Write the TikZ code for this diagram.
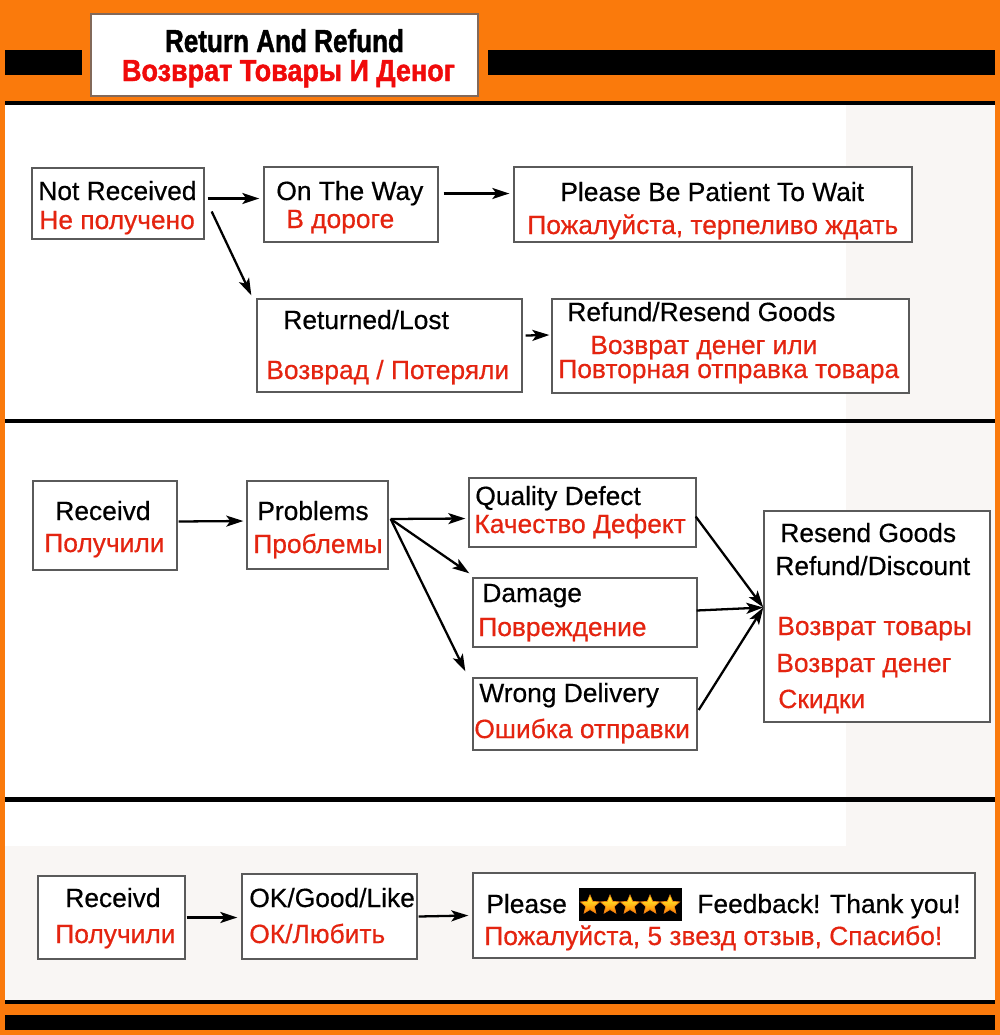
\documentclass[tikz,border=0pt]{standalone}
\usepackage{fontspec}
\setmainfont{Liberation Sans}
\newfontfamily\grueso[FakeBold=0.5]{Liberation Sans}
\newfontfamily\titular[FakeBold=1.5]{Liberation Sans}
\usepackage{graphicx}
\usetikzlibrary{arrows.meta,shapes.geometric}

\definecolor{naranja}{RGB}{250,122,12}
\definecolor{rojo}{RGB}{228,36,16}
\definecolor{rojotitulo}{RGB}{240,10,10}
\definecolor{fondo}{RGB}{249,246,244}
\definecolor{borde}{RGB}{90,90,90}
\definecolor{bordetitulo}{RGB}{130,105,90}

\tikzset{
	caja/.style={draw=borde, line width=0.8pt, fill=white, inner sep=0pt},
	ingles/.style={anchor=base west, inner sep=0pt, font=\grueso\fontsize{15}{18}\selectfont},
	ruso/.style={ingles, text=rojo},
	flecha/.style={-{Stealth[length=0.34cm,width=0.22cm,inset=0.08cm]}, line width=1.3pt},
	estrella/.style={star, star points=5, star point ratio=2.2, minimum size=0.4cm, inner sep=0pt, top color=yellow!80!white, bottom color=orange, draw=orange!70!brown, line width=0.4pt}
}

\begin{document}
\begin{tikzpicture}[x=0.02cm,y=-0.02cm]
		
		% Fondo y bandas
		\fill[naranja] (0,0) rectangle (1000,1035);
		\useasboundingbox (0,0) rectangle (1000,1035);
		\fill[black] (5,50) rectangle (82,75);
		\fill[black] (488,50) rectangle (995,75);
		\fill[white] (5,105) rectangle (995,1000);
		\fill[fondo] (846,105) rectangle (995,846);
		\fill[fondo] (5,846) rectangle (995,1000);
		\fill[black] (5,101) rectangle (995,105);
		\fill[black] (5,419) rectangle (995,423);
		\fill[black] (5,797) rectangle (995,802);
		\fill[black] (5,1000) rectangle (995,1004);
		\fill[black] (5,1015) rectangle (995,1030);
		
		% Titulo
		\node[caja, draw=bordetitulo, minimum width=7.74cm, minimum height=1.64cm] (titulo) at (284.5,55) {};
		\node[anchor=base, inner sep=0pt] (titulo-en) at (284.5,52) {\resizebox{4.78cm}{0.46cm}{\titular\bfseries Return And Refund}};
		\node[anchor=base, inner sep=0pt, text=rojotitulo] (titulo-ru) at (288.5,81) {\resizebox{6.66cm}{0.42cm}{\titular\bfseries Возврат Товары И Деног}};
		
		% Parte 1: no recibido
		\node[caja, minimum width=3.44cm, minimum height=1.42cm] (nr) at (118,203.5) {};
		\node[caja, minimum width=3.48cm, minimum height=1.50cm] (camino) at (351,204.5) {};
		\node[caja, minimum width=7.96cm, minimum height=1.50cm] (espera) at (713,204.5) {};
		\node[caja, minimum width=5.30cm, minimum height=1.86cm] (perdido) at (389.5,345.5) {};
		\node[caja, minimum width=7.14cm, minimum height=1.88cm] (reenvio) at (730.5,346) {};
		\node[ingles] (nr-en) at (38,200) {Not Received};
		\node[ruso] (nr-ru) at (39,229) {Не получено};
		\node[ingles] (camino-en) at (276,200) {On The Way};
		\node[ruso] (camino-ru) at (286,228) {В дороге};
		\node[ingles] (espera-en) at (560,201) {Please Be Patient To Wait};
		\node[ruso] (espera-ru) at (527,234) {Пожалуйста, терпеливо ждать};
		\node[ingles] (perdido-en) at (283,329) {Returned/Lost};
		\node[ruso] (perdido-ru) at (266,379) {Возврад / Потеряли};
		\node[ingles] (reenvio-en) at (567,321) {Refund/Resend Goods};
		\node[ruso] (reenvio-ru1) at (590,354) {Возврат денег или};
		\node[ruso] (reenvio-ru2) at (558,378) {Повторная отправка товара};
		\draw[flecha] ([shift={(3,-5)}]nr.east) -- ([shift={(-4,-6)}]camino.west);
		\draw[flecha] ([shift={(5,-11)}]camino.east) -- ([shift={(-4,-11)}]espera.west);
		\draw[flecha] ([shift={(7,8)}]nr.east) -- ([shift={(-5,-3)}]perdido.north west);
		\draw[flecha] ([shift={(3,-10)}]perdido.east) -- ([shift={(-2,-11)}]reenvio.west);
		
		% Parte 2: recibido con problemas
		\node[caja, minimum width=2.88cm, minimum height=1.78cm] (recibido) at (105,525.5) {};
		\node[caja, minimum width=2.82cm, minimum height=1.76cm] (problemas) at (317.5,525) {};
		\node[caja, minimum width=4.54cm, minimum height=1.38cm] (calidad) at (582.5,512.5) {};
		\node[caja, minimum width=4.48cm, minimum height=1.38cm] (dano) at (585,612.5) {};
		\node[caja, minimum width=4.48cm, minimum height=1.44cm] (envio) at (585,714) {};
		\node[caja, minimum width=4.52cm, minimum height=4.22cm] (solucion) at (877,616.5) {};
		\node[ingles] (recibido-en) at (55,520) {Receivd};
		\node[ruso] (recibido-ru) at (44,552) {Получили};
		\node[ingles] (problemas-en) at (257,520) {Problems};
		\node[ruso] (problemas-ru) at (253,553) {Проблемы};
		\node[ingles] (calidad-en) at (475,505) {Quality Defect};
		\node[ruso] (calidad-ru) at (474,533) {Качество Дефект};
		\node[ingles] (dano-en) at (482,602) {Damage};
		\node[ruso] (dano-ru) at (478,636) {Повреждение};
		\node[ingles] (envio-en) at (479,702) {Wrong Delivery};
		\node[ruso] (envio-ru) at (474,738) {Ошибка отправки};
		\node[ingles] (solucion-en1) at (780,542) {Resend Goods};
		\node[ingles] (solucion-en2) at (775,575) {Refund/Discount};
		\node[ruso] (solucion-ru1) at (777,635) {Возврат товары};
		\node[ruso] (solucion-ru2) at (776,672) {Возврат денег};
		\node[ruso] (solucion-ru3) at (778,708) {Скидки};
		\draw[flecha] ([shift={(1,-4)}]recibido.east) -- ([shift={(-3,-4)}]problemas.west);
		\draw[flecha] ([shift={(2,-6)}]problemas.east) -- ([shift={(-3,6)}]calidad.west);
		\draw[flecha] ([shift={(2,-6)}]problemas.east) -- ([shift={(-3,-4)}]dano.north west);
		\draw[flecha] ([shift={(2,-6)}]problemas.east) -- ([shift={(-7,-6)}]envio.north west);
		\draw[flecha] ([shift={(-1,4)}]calidad.east) -- ([shift={(0,-9)}]solucion.west);
		\draw[flecha] ([shift={(-1,-2)}]dano.east) -- ([shift={(0,-9)}]solucion.west);
		\draw[flecha] ([shift={(1,-4)}]envio.east) -- ([shift={(0,-9)}]solucion.west);
		
		% Parte 3: recibido bien
		\node[caja, minimum width=2.94cm, minimum height=1.66cm] (recibido2) at (111.5,917.5) {};
		\node[caja, minimum width=3.50cm, minimum height=1.70cm] (bien) at (329.5,916.5) {};
		\node[caja, minimum width=10.04cm, minimum height=1.70cm] (resena) at (724,915.5) {};
		\node[ingles] (recibido2-en) at (65,907) {Receivd};
		\node[ruso] (recibido2-ru) at (55,943) {Получили};
		\node[ingles] (bien-en) at (249,907) {OK/Good/Like};
		\node[ruso] (bien-ru) at (249,943) {ОК/Любить};
		\node[ingles] (resena-en1) at (486,913) {Please};
		\node[ingles] (resena-en2) at (697,913) {Feedback! Thank you!};
		\node[ruso] (resena-ru) at (484,945) {Пожалуйста, 5 звезд отзыв, Спасибо!};
		\node[fill=black, minimum width=2.06cm, minimum height=0.66cm, inner sep=0pt] (marco) at (630.5,904.5) {};
		\foreach \i in {0,...,4}
			\node[estrella] (e\i) at (590+20*\i,905) {};
		\draw[flecha] ([shift={(1,0)}]recibido2.east) -- ([shift={(-4,1)}]bien.west);
		\draw[flecha] ([shift={(1,0)}]bien.east) -- ([shift={(-4,0)}]resena.west);
		
	\end{tikzpicture}
\end{document}
